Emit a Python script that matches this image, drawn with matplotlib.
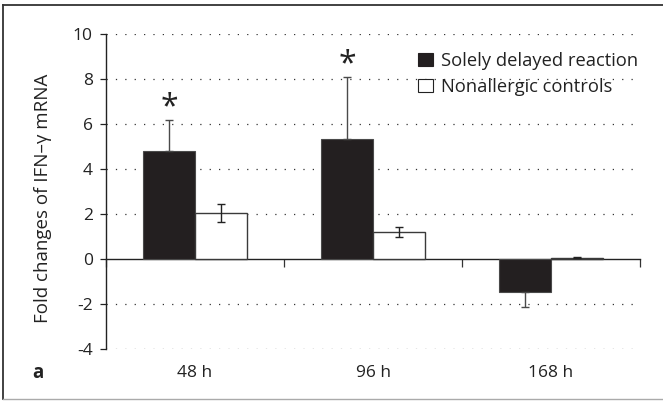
import numpy as np
import matplotlib
matplotlib.use("Agg")
import matplotlib.pyplot as plt
from matplotlib.patches import Patch
from matplotlib.lines import Line2D
from matplotlib.transforms import blended_transform_factory

plt.rcParams["font.family"] = ["Open Sans", "DejaVu Sans"]

# Data
timepoints = ["48 h", "96 h", "168 h"]
delayed_mean = [4.81, 5.32, -1.48]
delayed_err = [1.38, 2.78, 0.64]
control_mean = [2.04, 1.20, 0.06]
control_err = [0.41, 0.24, 0.02]
significant = [True, True, False]
series_names = ["Solely delayed reaction", "Nonallergic controls"]
y_ticks = [-4, -2, 0, 2, 4, 6, 8, 10]

BLACK = "#231f20"
EDGE = "#3a3a3a"

fig = plt.figure(figsize=(6.63, 4.01), dpi=100)
ax = fig.add_axes([106 / 663, 1 - 349 / 401, 534 / 663, 315 / 401])

x = np.arange(len(timepoints)) + 0.5
w = 0.29

d_mean = np.array(delayed_mean)
d_err = np.array(delayed_err)
c_mean = np.array(control_mean)
c_err = np.array(control_err)

ax.bar(x - w / 2, d_mean, w, color=BLACK, edgecolor="#4a4a4a", linewidth=0.8, zorder=3)
ax.bar(x + w / 2, c_mean, w, color="white", edgecolor=EDGE, linewidth=1.0, zorder=3)

# one-sided error bars for the delayed group (away from zero)
d_low = np.where(d_mean < 0, d_err, 0)
d_up = np.where(d_mean >= 0, d_err, 0)
ax.errorbar(x - w / 2, d_mean, yerr=[d_low, d_up], fmt="none", ecolor="#4a4a4a",
            elinewidth=1.0, capsize=3, capthick=1.0, zorder=4)
ax.errorbar(x + w / 2, c_mean, yerr=c_err, fmt="none", ecolor="#222222",
            elinewidth=1.0, capsize=3, capthick=1.0, zorder=4)

# significance markers above the error bars
for xi, m, e, s in zip(x - w / 2, d_mean, d_err, significant):
    if s:
        ax.annotate("*", (xi, m + e), xytext=(0, -3), textcoords="offset points",
                    ha="center", va="bottom", fontsize=23, color="#222222")

ax.set_xlim(0, len(timepoints))
ax.set_ylim(-4, 10)
ax.set_yticks(y_ticks)
ax.set_yticklabels([str(t) for t in y_ticks])
ax.tick_params(axis="y", direction="out", length=4.5, width=0.9, pad=5,
               labelsize=12.5, colors="#222222")

ax.set_xticks(np.arange(len(timepoints) + 1))
ax.set_xticklabels([])
ax.tick_params(axis="x", direction="out", length=6, width=0.9, colors="#333333")

for side in ("top", "right"):
    ax.spines[side].set_visible(False)
ax.spines["bottom"].set_position(("data", 0))
ax.spines["bottom"].set_color("#222222")
ax.spines["bottom"].set_linewidth(1.0)
ax.spines["left"].set_color("#222222")
ax.spines["left"].set_linewidth(1.0)

ax.set_axisbelow(True)
ax.yaxis.grid(True, linestyle=(0, (1, 6.5)), linewidth=0.9, color="#333333")
for t, gl in zip(y_ticks, ax.yaxis.get_gridlines()):
    if t == 0:
        gl.set_visible(False)

# category labels below the plotting area
trans = blended_transform_factory(ax.transData, ax.transAxes)
for xi, lab in zip(x, timepoints):
    ax.text(xi, -0.075, lab, transform=trans, ha="center", va="center",
            fontsize=12.5, color="#222222")

fig.text(38 / 663, 1 - 373 / 401, "a", fontsize=13.5, fontweight="bold",
         ha="center", va="center", color="#222222")
fig.text(43 / 663, 1 - 198 / 401, "Fold changes of IFN–γ mRNA", rotation=90,
         ha="center", va="center", fontsize=13.5, color="#222222")

handles = [Patch(facecolor=BLACK, edgecolor=BLACK, linewidth=0.8),
           Patch(facecolor="white", edgecolor="#222222", linewidth=0.8)]
ax.legend(handles, series_names, loc="upper left",
          bbox_to_anchor=(418 / 663, 1 - 52 / 401), bbox_transform=fig.transFigure,
          frameon=False, fontsize=13.2, handlelength=0.8, handleheight=0.7,
          handletextpad=0.45, labelspacing=0.42, borderpad=0, borderaxespad=0,
          labelcolor="#222222")

# outer frame
fig.add_artist(Line2D([3 / 663, 3 / 663], [1 - 399 / 401, 1 - 5 / 401],
                      transform=fig.transFigure, color="#333333", linewidth=1.3))
fig.add_artist(Line2D([3 / 663, 1.01], [1 - 5 / 401, 1 - 5 / 401],
                      transform=fig.transFigure, color="#333333", linewidth=1.3))
fig.add_artist(Line2D([3 / 663, 1.01], [1 - 399 / 401, 1 - 399 / 401],
                      transform=fig.transFigure, color="#aaaaaa", linewidth=1.0))

fig.savefig("out.png", dpi=100)
